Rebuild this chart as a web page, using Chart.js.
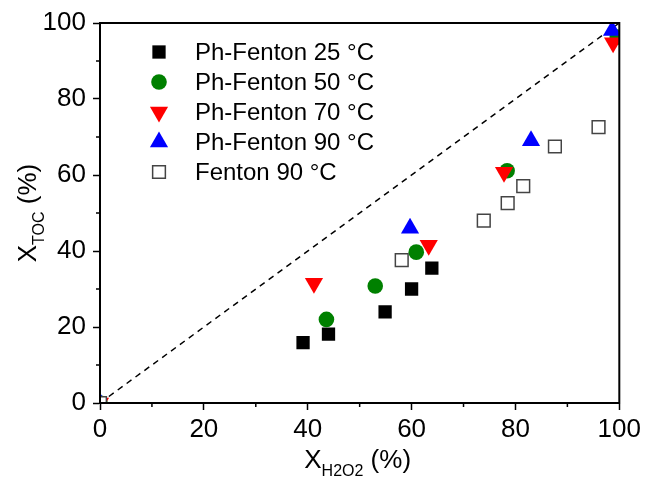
<!DOCTYPE html>
<html>
<head>
<meta charset="utf-8">
<script src="https://cdn.jsdelivr.net/npm/chart.js@4.4.1/dist/chart.umd.min.js"></script>
<style>
  html, body { margin: 0; padding: 0; background: #fff; }
  canvas { display: block; }
</style>
</head>
<body>
<canvas id="c" width="645" height="482"></canvas>
<script>
// values (X_H2O2 %, X_TOC %)
const ph25X = [0, 39.1, 44.0, 54.9, 60.0, 63.9];
const ph25Y = [0, 15.9, 18.1, 24.0, 30.0, 35.5];

const ph50X = [0, 43.6, 53.0, 60.9, 78.4, 99.6];
const ph50Y = [0, 22.0, 30.8, 39.7, 61.1, 96.3];

const ph70X = [0, 41.2, 63.3, 77.8, 98.8];
const ph70Y = [0, 31.5, 41.5, 60.7, 94.8];

const ph90X = [0, 59.7, 83.0, 98.6];
const ph90Y = [0, 46.0, 69.0, 98.0];

const fen90X = [0, 58.1, 73.9, 78.5, 81.5, 87.6, 96.0];
const fen90Y = [0, 37.6, 48.0, 52.6, 57.1, 67.5, 72.6];

const diagX = [0, 100];
const diagY = [0, 100];

const labels = ['Ph-Fenton 25 \u00B0C', 'Ph-Fenton 50 \u00B0C', 'Ph-Fenton 70 \u00B0C', 'Ph-Fenton 90 \u00B0C', 'Fenton 90 \u00B0C'];
const xTicks = [0, 20, 40, 60, 80, 100];
const yTicks = [0, 20, 40, 60, 80, 100];

const pts = (xs, ys) => xs.map((x, i) => ({ x: x, y: ys[i] }));

const FONT = "'Liberation Sans', Arial, sans-serif";

// legend drawn inside the plot, top-left
const insideLegend = {
    id: 'insideLegend',
    afterDatasetsDraw(chart) {
        const ctx = chart.ctx;
        ctx.save();
        ctx.font = '24px ' + FONT;
        ctx.textBaseline = 'middle';
        chart.data.datasets.forEach((ds) => {
            if (!ds.label) return;
            const y = 52 + ds.legendRow * 30;
            ctx.fillStyle = ds.backgroundColor;
            ctx.strokeStyle = ds.borderColor;
            ctx.lineWidth = ds.borderWidth;
            Chart.helpers.drawPoint(ctx, {
                pointStyle: ds.pointStyle,
                radius: ds.pointRadius,
                rotation: ds.rotation || 0,
                borderWidth: ds.borderWidth
            }, 159, y);
            ctx.fillStyle = '#000';
            ctx.fillText(ds.label, 195, y + 1);
        });
        ctx.restore();
    }
};

// frame, minor ticks and axis titles with subscripts
const frame = {
    id: 'frame',
    afterDraw(chart) {
        const ctx = chart.ctx;
        const a = chart.chartArea;
        const xs = chart.scales.x, ys = chart.scales.y;
        ctx.save();
        ctx.strokeStyle = '#000';
        ctx.lineWidth = 2;
        ctx.strokeRect(a.left, a.top, a.right - a.left, a.bottom - a.top);
        ctx.lineWidth = 1.5;
        ctx.beginPath();
        for (let v = 10; v < 100; v += 20) {
            const px = xs.getPixelForValue(v);
            ctx.moveTo(px, a.bottom); ctx.lineTo(px, a.bottom + 4);
            const py = ys.getPixelForValue(v);
            ctx.moveTo(a.left, py); ctx.lineTo(a.left - 4, py);
        }
        ctx.stroke();

        ctx.fillStyle = '#000';
        ctx.textBaseline = 'alphabetic';
        // x title
        const big = '26px ' + FONT, small = '16px ' + FONT;
        ctx.font = big; const wX = ctx.measureText('X').width; const wP = ctx.measureText(' (%)').width;
        ctx.font = small; const wS = ctx.measureText('H2O2').width;
        let x0 = (a.left + a.right) / 2 - 2 - (wX + wS + wP) / 2;
        const by = 468;
        ctx.font = big; ctx.fillText('X', x0, by);
        ctx.font = small; ctx.fillText('H2O2', x0 + wX, by + 8);
        ctx.font = big; ctx.fillText(' (%)', x0 + wX + wS, by);

        // y title
        ctx.translate(36, (a.top + a.bottom) / 2);
        ctx.rotate(-Math.PI / 2);
        ctx.font = big; const wX2 = ctx.measureText('X').width; const wP2 = ctx.measureText(' (%)').width;
        ctx.font = small; const wS2 = ctx.measureText('TOC').width;
        x0 = -(wX2 + wS2 + wP2) / 2;
        ctx.font = big; ctx.fillText('X', x0, 0);
        ctx.font = small; ctx.fillText('TOC', x0 + wX2, 8);
        ctx.font = big; ctx.fillText(' (%)', x0 + wX2 + wS2, 0);
        ctx.restore();
    }
};

const axisCommon = {
    type: 'linear',
    min: 0,
    max: 100,
    border: { display: true, color: '#000', width: 2 },
    grid: {
        display: true, drawOnChartArea: false, drawTicks: true, tickLength: 7, tickWidth: 1.5,
        tickColor: c => (c.tick && c.tick.value % 20 === 0) ? '#000' : 'rgba(0,0,0,0)'
    },
    ticks: { stepSize: 10, color: '#000', maxRotation: 0, font: { family: FONT, size: 26 } }
};

new Chart(document.getElementById('c'), {
    type: 'scatter',
    data: {
        datasets: [
            {
                label: labels[0], legendRow: 0, order: 5,
                data: pts(ph25X, ph25Y),
                pointStyle: 'rect', pointRadius: 9.4,
                backgroundColor: '#000', borderColor: '#000', borderWidth: 0
            },
            {
                label: labels[1], legendRow: 1, order: 4,
                data: pts(ph50X, ph50Y),
                pointStyle: 'circle', pointRadius: 7.8,
                backgroundColor: '#008000', borderColor: '#008000', borderWidth: 0
            },
            {
                label: labels[2], legendRow: 2, order: 3,
                data: pts(ph70X, ph70Y),
                pointStyle: 'triangle', pointRadius: 10.5, rotation: 180,
                backgroundColor: '#ff0000', borderColor: '#ff0000', borderWidth: 0
            },
            {
                label: labels[3], legendRow: 3, order: 2,
                data: pts(ph90X, ph90Y),
                pointStyle: 'triangle', pointRadius: 10.5,
                backgroundColor: '#0000ff', borderColor: '#0000ff', borderWidth: 0
            },
            {
                label: labels[4], legendRow: 4, order: 1,
                data: pts(fen90X, fen90Y),
                pointStyle: 'rect', pointRadius: 9.0,
                backgroundColor: '#ffffff', borderColor: '#444', borderWidth: 1.5
            },
            {
                type: 'line', order: 6,
                data: pts(diagX, diagY),
                borderColor: '#000', borderWidth: 1.5, borderDash: [6, 5],
                pointRadius: 0, fill: false
            }
        ]
    },
    options: {
        responsive: false,
        animation: false,
        devicePixelRatio: 1,
        layout: { padding: { top: 23, right: 25, left: 0, bottom: 0 } },
        plugins: { legend: { display: false }, tooltip: { enabled: false } },
        scales: {
            x: Object.assign({}, axisCommon, {
                position: 'bottom',
                ticks: Object.assign({}, axisCommon.ticks, { padding: 4, callback: v => xTicks.includes(v) ? v : '' }),
                afterFit(s) { s.height = 79; }
            }),
            y: Object.assign({}, axisCommon, {
                position: 'left',
                ticks: Object.assign({}, axisCommon.ticks, { padding: 7, callback: v => yTicks.includes(v) ? v : '' }),
                afterFit(s) { s.width = 100; }
            })
        }
    },
    plugins: [insideLegend, frame]
});
</script>
</body>
</html>
